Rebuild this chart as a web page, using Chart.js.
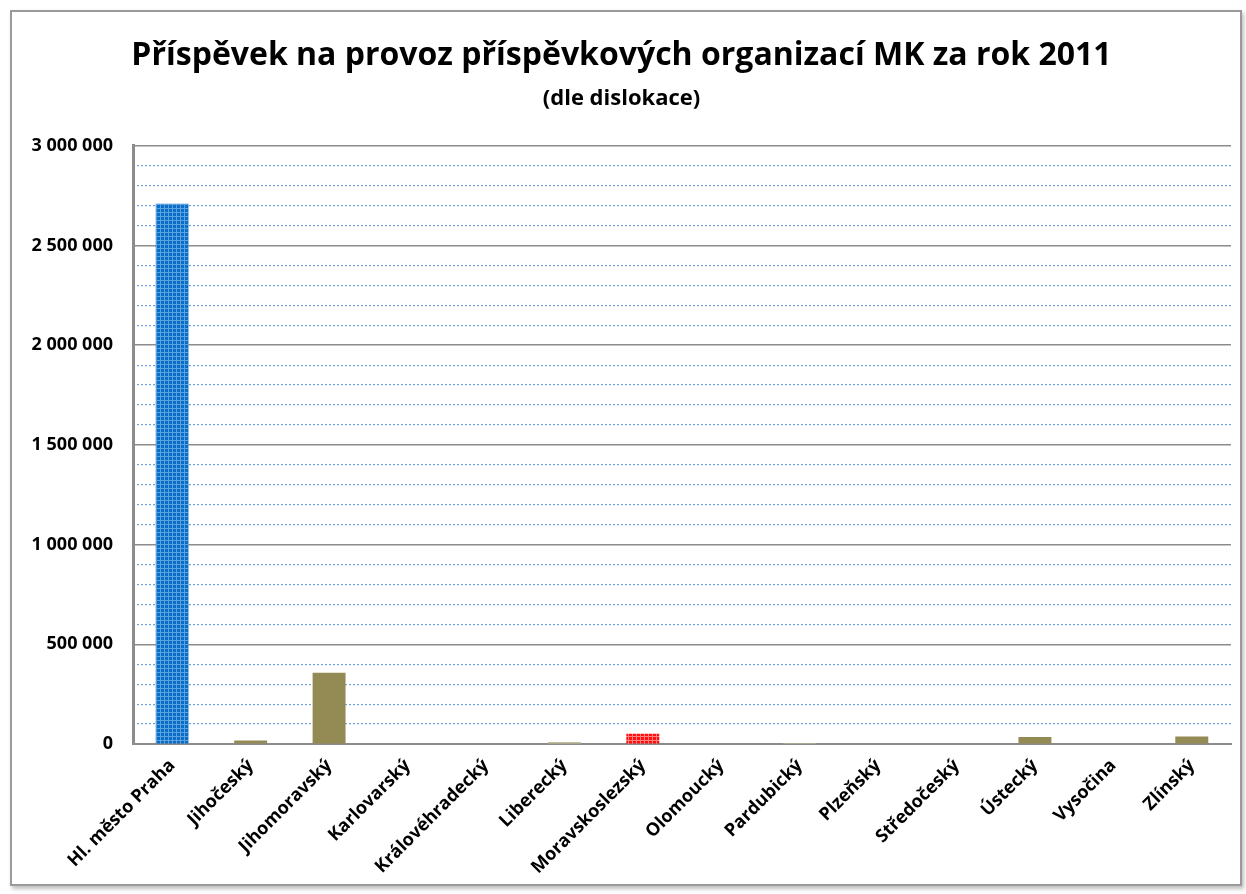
<!DOCTYPE html>
<html>
<head>
<meta charset="utf-8">
<script src="https://cdn.jsdelivr.net/npm/chart.js@4"></script>
<style>
  body { margin: 0; background: #fff; }
  #box {
    position: absolute; left: 10px; top: 10px; width: 1228px; height: 872px;
    border: 2px solid #9a9a9a; background: #fff;
    box-shadow: 2px 3px 4px rgba(0,0,0,0.25);
  }
  #wrap { position: absolute; left: 0; top: 0; width: 1228px; height: 872px; }
</style>
</head>
<body>
<div id="box"><div id="wrap"><canvas id="chart"></canvas></div></div>
<script>
// data
var regions = ["Hl. město Praha", "Jihočeský", "Jihomoravský", "Karlovarský", "Královéhradecký",
  "Liberecký", "Moravskoslezský", "Olomoucký", "Pardubický", "Plzeňský", "Středočeský",
  "Ústecký", "Vysočina", "Zlínský"];
var amounts = [2710000, 18000, 357000, 0, 0, 10000, 52000, 0, 5000, 0, 0, 35000, 0, 37000];
var yTicks = [0, 500000, 1000000, 1500000, 2000000, 2500000, 3000000];

function makePattern(base, light) {
  var c = document.createElement("canvas");
  c.width = 4; c.height = 4;
  var g = c.getContext("2d");
  g.fillStyle = base;
  g.fillRect(0, 0, 4, 4);
  g.fillStyle = light;
  g.fillRect(0, 0, 4, 1);
  g.fillRect(0, 0, 1, 4);
  return g.createPattern(c, "repeat");
}

var ctx = document.getElementById("chart").getContext("2d");
var blue = makePattern("#0a6cc4", "#5aa2e0");
var red = makePattern("#ff1010", "#ff8080");

var colors = regions.map(function (r, i) {
  if (i === 0) return blue;
  if (r === "Moravskoslezský") return red;
  if (r === "Liberecký" || r === "Pardubický") return "#c4bd97";
  return "#948a54";
});

function fmt(v) {
  return String(v).replace(/\B(?=(\d{3})+(?!\d))/g, " ");
}

new Chart(ctx, {
  type: "bar",
  data: {
    labels: regions,
    datasets: [{
      data: amounts,
      backgroundColor: colors,
      borderWidth: 0,
      barPercentage: 0.42,
      categoryPercentage: 1
    }]
  },
  options: {
    responsive: true,
    maintainAspectRatio: false,
    animation: false,
    layout: { padding: { left: 0, right: 9, top: 0, bottom: 0 } },
    plugins: {
      legend: { display: false },
      tooltip: { enabled: false },
      title: {
        display: true,
        text: "Příspěvek na provoz příspěvkových organizací MK za rok 2011",
        color: "#000",
        font: { family: "Open Sans", size: 32, weight: "bold" },
        padding: { top: 25, bottom: 10 }
      },
      subtitle: {
        display: true,
        text: "(dle dislokace)",
        color: "#000",
        font: { family: "Open Sans", size: 22, weight: "bold" },
        padding: { top: 0, bottom: 34 }
      }
    },
    scales: {
      x: {
        grid: { display: false },
        border: { color: "#8c8c8c", width: 2 },
        ticks: {
          color: "#000",
          maxRotation: 45, minRotation: 45,
          font: { family: "Open Sans", size: 18, weight: "bold" }
        },
        afterFit: function (s) { s.height = 140; }
      },
      yMinor: {
        position: "left",
        min: 0, max: 3000000,
        ticks: { display: false, stepSize: 100000 },
        grid: {
          drawTicks: false,
          color: function (c) {
            return c.tick && c.tick.value % 500000 === 0 ? "rgba(0,0,0,0)" : "#6f9fdc";
          },
          lineWidth: 1.2
        },
        border: { display: false, dash: [2, 2] },
        afterFit: function (s) { s.width = 0; }
      },
      y: {
        position: "left",
        min: 0, max: 3000000,
        afterBuildTicks: function (s) {
          s.ticks = yTicks.map(function (v) { return { value: v }; });
        },
        grid: { color: "#8c8c8c", lineWidth: 1.5, drawTicks: false },
        border: { color: "#8c8c8c", width: 3 },
        ticks: {
          color: "#000",
          padding: 20,
          font: { family: "Open Sans", size: 18, weight: "bold" },
          callback: function (v) { return fmt(v); }
        },
        afterFit: function (s) { s.width = 121; }
      }
    }
  }
});
</script>
</body>
</html>
